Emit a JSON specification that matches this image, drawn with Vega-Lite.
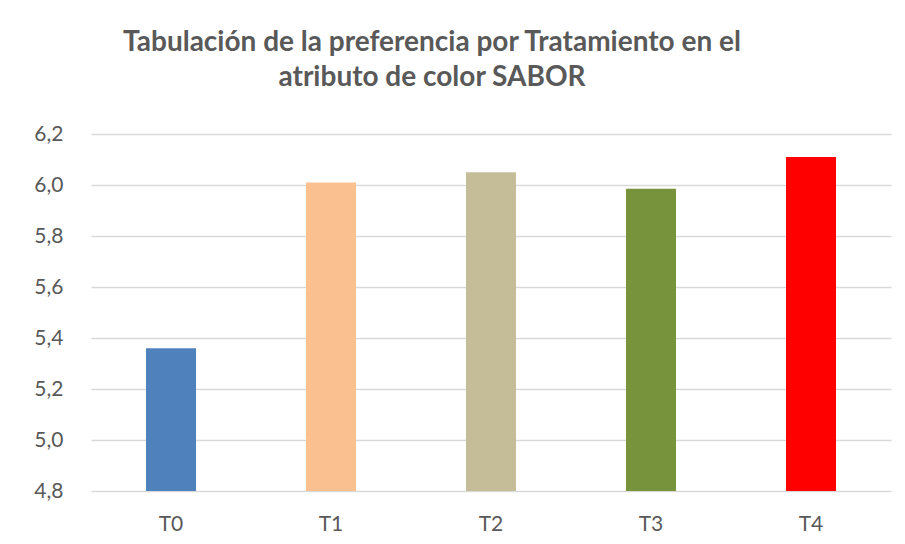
{
  "$schema": "https://vega.github.io/schema/vega-lite/v6.json",
  "autosize": "none",
  "width": 800,
  "height": 357,
  "padding": {"left": 91, "top": 134, "right": 14, "bottom": 53},
  "background": "white",
  "title": {
    "text": ["Tabulación de la preferencia por Tratamiento en el", "atributo de color SABOR"],
    "font": "Lato",
    "fontWeight": "bold",
    "fontSize": 28,
    "color": "#595959",
    "anchor": "middle",
    "dx": -59,
    "offset": 31,
    "lineHeight": 35
  },
  "data": {
    "values": [
      {"tratamiento": "T0", "valor": 5.36},
      {"tratamiento": "T1", "valor": 6.01},
      {"tratamiento": "T2", "valor": 6.05},
      {"tratamiento": "T3", "valor": 5.985},
      {"tratamiento": "T4", "valor": 6.11}
    ]
  },
  "mark": {"type": "bar", "clip": true},
  "encoding": {
    "x": {
      "field": "tratamiento",
      "type": "nominal",
      "sort": null,
      "scale": {"paddingInner": 0.6875, "paddingOuter": 0.34375},
      "axis": {
        "title": null,
        "labelAngle": 0,
        "labelFont": "Lato",
        "labelFontSize": 21,
        "labelColor": "#595959",
        "labelPadding": 22,
        "ticks": false,
        "domain": false
      }
    },
    "y": {
      "field": "valor",
      "type": "quantitative",
      "scale": {"domain": [4.8, 6.2], "zero": false, "nice": false},
      "axis": {
        "title": null,
        "values": [4.8, 5.0, 5.2, 5.4, 5.6, 5.8, 6.0, 6.2],
        "labelExpr": "replace(format(datum.value, '.1f'), '.', ',')",
        "labelFont": "Lato",
        "labelFontSize": 21,
        "labelColor": "#595959",
        "labelPadding": 28,
        "tickSize": 0,
        "ticks": true,
        "tickOpacity": 0,
        "domain": false,
        "grid": true,
        "gridColor": "#d9d9d9",
        "gridWidth": 1.5
      }
    },
    "y2": {"datum": 4.8},
    "color": {
      "field": "tratamiento",
      "type": "nominal",
      "scale": {
        "domain": ["T0", "T1", "T2", "T3", "T4"],
        "range": ["#4F81BD", "#FAC090", "#C4BD97", "#77933C", "#FF0000"]
      },
      "legend": null
    }
  },
  "config": {"view": {"stroke": null}}
}
